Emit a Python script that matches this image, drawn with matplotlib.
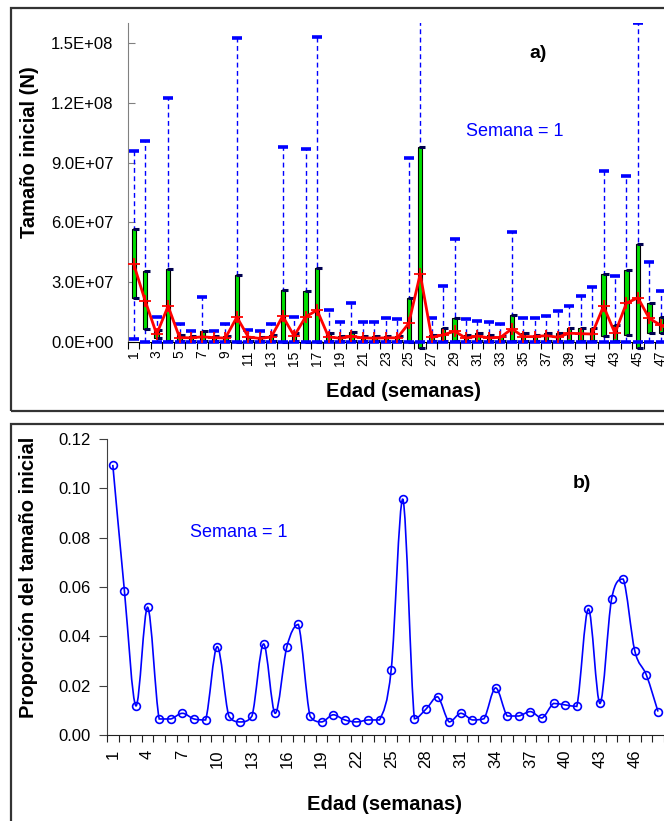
import numpy as np
import matplotlib
matplotlib.use('Agg')
import matplotlib.pyplot as plt
from matplotlib.path import Path
from matplotlib.patches import PathPatch, Rectangle
from matplotlib.ticker import FuncFormatter

plt.rcParams['font.family'] = ['Liberation Sans', 'DejaVu Sans']

# ---------------- data ----------------
weeks = list(range(1, 49))

max_vals = [9.58e7, 1.01e8, 1.24e7, 1.227e8, 9.0e6, 5.5e6, 2.24e7, 5.5e6, 9.0e6, 1.527e8,
            6.0e6, 5.5e6, 9.0e6, 9.8e7, 1.24e7, 9.67e7, 1.532e8, 1.6e7, 9.9e6, 1.94e7,
            1.02e7, 1.02e7, 1.19e7, 1.14e7, 9.25e7, 1.9e8, 1.19e7, 2.81e7, 5.15e7, 1.14e7,
            1.05e7, 9.9e6, 8.9e6, 5.5e7, 1.19e7, 1.19e7, 1.32e7, 1.56e7, 1.8e7, 2.31e7,
            2.74e7, 8.6e7, 3.31e7, 8.35e7, 1.60e8, 4.03e7, 2.57e7, 2.0e7]

q3_vals = [5.65e7, 3.56e7, 6.0e6, 3.65e7, 3.5e6, 3.0e6, 5.7e6, 3.0e6, 3.2e6, 3.35e7,
           2.7e6, 2.3e6, 3.5e6, 2.61e7, 4.7e6, 2.54e7, 3.7e7, 4.3e6, 3.0e6, 4.9e6,
           3.0e6, 3.0e6, 3.0e6, 3.0e6, 2.19e7, 9.77e7, 3.5e6, 7.2e6, 1.22e7, 3.5e6,
           4.3e6, 3.5e6, 3.0e6, 1.34e7, 4.7e6, 3.5e6, 4.7e6, 4.3e6, 7.2e6, 7.2e6,
           7.2e6, 3.41e7, 8.4e6, 3.61e7, 4.92e7, 1.97e7, 1.27e7, 1.0e7]

q1_vals = [2.19e7, 6.5e6, 2.2e6, 5e5, 4e5, 4e5, 4e5, 4e5, 4e5, 2e5,
           4e5, 4e5, 4e5, 2e5, 5e5, 2e5, 2e5, 4e5, 4e5, 4e5,
           4e5, 4e5, 4e5, 4e5, 2e5, -3e6, 4e5, 4e5, 4e5, 4e5,
           4e5, 4e5, 4e5, 4e5, 4e5, 4e5, 4e5, 4e5, 4e5, 4e5,
           4e5, 3.0e6, 4e5, 3.5e6, -3e6, 4.3e6, 4.3e6, 3.0e6]

mean_vals = [3.9e7, 2.07e7, 3.9e6, 1.8e7, 2.2e6, 2.1e6, 2.6e6, 2.2e6, 2.0e6, 1.25e7,
             2.5e6, 1.8e6, 2.5e6, 1.3e7, 3.0e6, 1.26e7, 1.6e7, 2.6e6, 1.9e6, 2.8e6,
             2.1e6, 1.9e6, 2.1e6, 2.1e6, 9.3e6, 3.41e7, 2.3e6, 3.6e6, 5.4e6, 1.9e6,
             3.0e6, 2.1e6, 2.3e6, 6.6e6, 2.7e6, 2.7e6, 3.2e6, 2.4e6, 4.4e6, 4.2e6,
             4.0e6, 1.8e7, 4.4e6, 1.95e7, 2.22e7, 1.18e7, 8.4e6, 6.0e6]

min_vals = [1.4e6] + [2e5] * 47

prop_vals = [0.1095, 0.0585, 0.0118, 0.0518, 0.0065, 0.0065, 0.0088, 0.0065, 0.0061, 0.0358,
             0.0077, 0.0053, 0.0077, 0.0369, 0.0088, 0.0357, 0.0448, 0.0077, 0.0053, 0.0082,
             0.0061, 0.0053, 0.0061, 0.0061, 0.0265, 0.0957, 0.0066, 0.0105, 0.0155, 0.0053,
             0.0088, 0.0061, 0.0066, 0.0191, 0.0077, 0.0077, 0.0095, 0.0069, 0.0128, 0.0122,
             0.0116, 0.0511, 0.0128, 0.0552, 0.0632, 0.0341, 0.0243, 0.0095]

top_xlabels = [str(w) for w in weeks if w % 2 == 1]
bottom_xlabels = [str(w) for w in weeks if (w - 1) % 3 == 0]

# ---------------- figure ----------------
W, H = 664, 821
fig = plt.figure(figsize=(W / 100, H / 100), dpi=100)


def px_rect(l, t, r, b):
    return [l / W, 1 - b / H, (r - l) / W, (b - t) / H]


# panel frames
fig.patches.append(Rectangle((11 / W, 1 - 411 / H), 700 / W, (411 - 7.7) / H,
                             transform=fig.transFigure, fill=False, ec='#333333', lw=1.6))
fig.patches.append(Rectangle((11 / W, -0.05), 700 / W, (1 - 424 / H) + 0.05,
                             transform=fig.transFigure, fill=False, ec='#333333', lw=1.6))

wk = np.array(weeks, float)

# ---------------- top panel ----------------
ax1 = fig.add_axes(px_rect(128, 23.3, 678, 342))
ax1.set_xlim(0.5, 48.5)
ax1.set_ylim(0, 1.6e8)

ax1.vlines(wk, min_vals, max_vals, colors='#0000FF', linestyles=(0, (3.5, 2.5)), lw=1.0, zorder=2)
ax1.bar(wk, np.array(q3_vals) - np.array(q1_vals), bottom=q1_vals, width=0.38,
        color='#00E000', edgecolor='black', lw=0.8, zorder=3, clip_on=False)
ax1.plot(wk + 0.2, q3_vals, ls='none', marker='_', ms=4.5, mew=2.2, color='#000050', zorder=4)
ax1.plot(wk + 0.2, q1_vals, ls='none', marker='_', ms=4.5, mew=2.2, color='#000050', zorder=4,
         clip_on=False)
ax1.plot(wk, max_vals, ls='none', marker='_', ms=7.5, mew=2.6, color='#0000FF', zorder=5)
ax1.plot(wk, min_vals, ls='none', marker='_', ms=7.5, mew=2.6, color='#0000FF', zorder=5,
         clip_on=False)
ax1.plot(wk, mean_vals, color='#FF0000', lw=2.0, marker='+', ms=9, mew=1.3, zorder=6)

for s in ('top', 'right'):
    ax1.spines[s].set_visible(False)
ax1.spines['left'].set_color('#808080')
ax1.spines['bottom'].set_color('black')

ax1.set_xticks(np.arange(0.5, 49, 1.0))
ax1.set_xticks([w for w in weeks if w % 2 == 1], minor=True)
ax1.set_xticklabels(top_xlabels, minor=True)
ax1.tick_params(axis='x', which='major', direction='out', length=5, labelbottom=False, color='black')
ax1.tick_params(axis='x', which='minor', length=0, labelsize=10, labelrotation=90, pad=6)
ax1.set_yticks(np.arange(0, 1.51e8, 3e7))
ax1.yaxis.set_major_formatter(FuncFormatter(lambda v, p: '%.1E' % v))
ax1.tick_params(axis='y', direction='in', length=5, labelsize=12, pad=10.5, color='#808080')

# ---------------- bottom panel ----------------
ax2 = fig.add_axes(px_rect(107, 439, 663.8, 735))
ax2.set_xlim(0.5, 48.5)
ax2.set_ylim(0, 0.12)


def smooth_path(x, y):
    x = np.asarray(x, float)
    y = np.asarray(y, float)
    n = len(x)
    verts = [(x[0], y[0])]
    codes = [Path.MOVETO]
    for i in range(n - 1):
        x0, y0 = (x[i - 1], y[i - 1]) if i > 0 else (x[i], y[i])
        x3, y3 = (x[i + 2], y[i + 2]) if i + 2 < n else (x[i + 1], y[i + 1])
        lo, hi = min(y[i], y[i + 1]), max(y[i], y[i + 1])
        c1y = np.clip(y[i] + (y[i + 1] - y0) / 6, lo, hi)
        c2y = np.clip(y[i + 1] - (y3 - y[i]) / 6, lo, hi)
        c1 = (x[i] + (x[i + 1] - x0) / 6, c1y)
        c2 = (x[i + 1] - (x3 - x[i]) / 6, c2y)
        verts += [c1, c2, (x[i + 1], y[i + 1])]
        codes += [Path.CURVE4] * 3
    return Path(verts, codes)


ax2.add_patch(PathPatch(smooth_path(wk, prop_vals), fill=False, ec='#0000FF', lw=1.2, zorder=3))
ax2.plot(wk, prop_vals, ls='none', marker='o', ms=5.6, mfc='none', mec='#0000FF', mew=1.2, zorder=4)

for s in ('top', 'right'):
    ax2.spines[s].set_visible(False)
ax2.spines['left'].set_color('#404040')
ax2.spines['bottom'].set_color('#202020')

ax2.set_xticks(np.arange(0.5, 49, 1.0))
ax2.set_xticks([w for w in weeks if (w - 1) % 3 == 0], minor=True)
ax2.set_xticklabels(bottom_xlabels, minor=True)
ax2.tick_params(axis='x', which='major', direction='out', length=5, labelbottom=False, color='#202020')
ax2.tick_params(axis='x', which='minor', length=0, labelsize=12, labelrotation=90, pad=10.5)
ax2.set_yticks(np.arange(0, 0.1201, 0.02))
ax2.yaxis.set_major_formatter(FuncFormatter(lambda v, p: '%.2f' % v))
ax2.tick_params(axis='y', direction='out', length=6, labelsize=12, pad=6, color='#404040')

# ---------------- texts ----------------
fig.text(30 / W, 1 - 152 / H, 'Tamaño inicial (N)', rotation=90, fontweight='bold',
         fontsize=14.5, ha='center', va='center')
fig.text(403 / W, 1 - 391 / H, 'Edad (semanas)', fontweight='bold', fontsize=14.5,
         ha='center', va='center')
fig.text(29 / W, 1 - 577 / H, 'Proporción del tamaño inicial', rotation=90, fontweight='bold',
         fontsize=14.5, ha='center', va='center')
fig.text(384.5 / W, 1 - 804 / H, 'Edad (semanas)', fontweight='bold', fontsize=14.5,
         ha='center', va='center')
fig.text(538 / W, 1 - 53 / H, 'a)', fontweight='bold', fontsize=14, ha='center', va='center')
fig.text(582 / W, 1 - 483 / H, 'b)', fontweight='bold', fontsize=14, ha='center', va='center')
fig.text(515 / W, 1 - 131 / H, 'Semana = 1', color='#0000FF', fontsize=13, ha='center', va='center')
fig.text(239 / W, 1 - 532 / H, 'Semana = 1', color='#0000FF', fontsize=13, ha='center', va='center')

fig.savefig('out.png', dpi=100)
